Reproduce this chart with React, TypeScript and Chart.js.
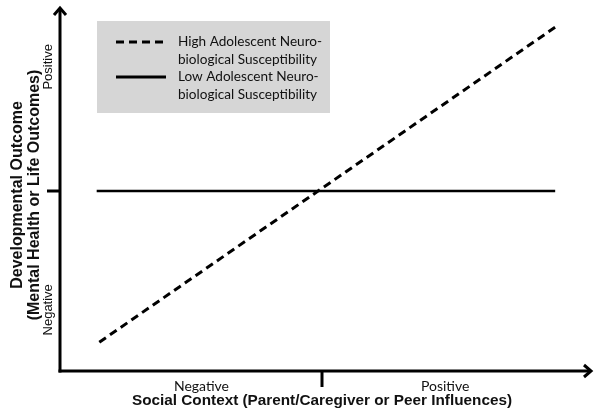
import { useEffect, useRef } from "react";
import { Chart, registerables } from "chart.js";
Chart.register(...registerables);

// ---- data ----
const seriesLabels = [
  ["High Adolescent Neuro-", "biological Susceptibility"],
  ["Low Adolescent Neuro-", "biological Susceptibility"],
];
const highX = [-0.85, 0.89];
const highY = [-0.84, 0.91];
const lowX = [-0.86, 0.89];
const lowY = [0, 0];
const xTickLabels = ["Negative", "Positive"];
const xTickValues = [-0.46, 0.47];
const yTickLabels = ["Negative", "Positive"];
const yTickValues = [-0.66, 0.69];
const xTitle = "Social Context (Parent/Caregiver or Peer Influences)";
const yTitle = ["Developmental Outcome", "(Mental Health or Life Outcomes)"];

const decorPlugin = {
  id: "decor",
  afterDraw(chart: any) {
    const ctx = chart.ctx;
    const xs = chart.scales.x;
    const ys = chart.scales.y;
    const x0 = xs.getPixelForValue(-1);
    const y0 = ys.getPixelForValue(-1);
    const xc = xs.getPixelForValue(0);
    const yc = ys.getPixelForValue(0);
    ctx.save();
    ctx.strokeStyle = "#000";
    ctx.fillStyle = "#000";
    ctx.lineWidth = 3;
    ctx.lineCap = "butt";
    // y axis
    ctx.beginPath();
    ctx.moveTo(x0, y0 + 1.5);
    ctx.lineTo(x0, 8);
    ctx.stroke();
    ctx.beginPath();
    ctx.moveTo(x0 - 6, 15);
    ctx.lineTo(x0, 8);
    ctx.lineTo(x0 + 6, 15);
    ctx.stroke();
    // x axis
    ctx.beginPath();
    ctx.moveTo(x0 - 1.5, y0);
    ctx.lineTo(591, y0);
    ctx.stroke();
    ctx.beginPath();
    ctx.moveTo(584, y0 - 6);
    ctx.lineTo(591, y0);
    ctx.lineTo(584, y0 + 6);
    ctx.stroke();
    // ticks
    ctx.beginPath();
    ctx.moveTo(47, yc);
    ctx.lineTo(x0, yc);
    ctx.stroke();
    ctx.beginPath();
    ctx.moveTo(xc, y0);
    ctx.lineTo(xc, y0 + 16);
    ctx.stroke();

    // x tick labels
    ctx.font = "14px Lato";
    ctx.textAlign = "center";
    ctx.textBaseline = "middle";
    ctx.fillStyle = "#111";
    xTickLabels.forEach((t, i) => {
      ctx.fillText(t, xs.getPixelForValue(xTickValues[i]), 386);
    });
    // x title
    ctx.font = "bold 15.3px 'Liberation Sans'";
    ctx.fillText(xTitle, xc, 401);

    // y tick labels (rotated)
    ctx.font = "13px 'Liberation Sans'";
    yTickLabels.forEach((t, i) => {
      ctx.save();
      ctx.translate(48, ys.getPixelForValue(yTickValues[i]));
      ctx.rotate(-Math.PI / 2);
      ctx.fillText(t, 0, 0);
      ctx.restore();
    });
    // y title
    ctx.font = "bold 16px 'Liberation Sans'";
    ctx.save();
    ctx.translate(18, yc + 4);
    ctx.rotate(-Math.PI / 2);
    ctx.fillText(yTitle[0], 0, 0);
    ctx.fillText(yTitle[1], 0, 17);
    ctx.restore();

    // legend box
    ctx.fillStyle = "#d6d6d6";
    ctx.fillRect(97, 21, 233, 92);
    const rowY = [42, 77];
    chart.data.datasets.forEach((ds: any, i: number) => {
      ctx.strokeStyle = "#000";
      ctx.lineWidth = 3;
      ctx.setLineDash(ds.borderDash || []);
      ctx.beginPath();
      ctx.moveTo(116, rowY[i]);
      ctx.lineTo(166, rowY[i]);
      ctx.stroke();
      ctx.setLineDash([]);
      ctx.fillStyle = "#111";
      ctx.font = "13.6px Lato";
      ctx.textAlign = "left";
      ctx.textBaseline = "middle";
      const lines = seriesLabels[i];
      lines.forEach((l, j) => ctx.fillText(l, 178, rowY[i] + j * 18));
    });
    ctx.restore();
  },
};

export default function App() {
  const ref = useRef<HTMLCanvasElement>(null);
  useEffect(() => {
    if (!ref.current) return;
    const chart = new Chart(ref.current, {
      type: "line",
      data: {
        datasets: [
          {
            label: seriesLabels[0].join(""),
            data: highX.map((x, i) => ({ x, y: highY[i] })),
            borderColor: "#000",
            borderWidth: 3,
            borderDash: [8, 5],
            pointRadius: 0,
            fill: false,
          },
          {
            label: seriesLabels[1].join(""),
            data: lowX.map((x, i) => ({ x, y: lowY[i] })),
            borderColor: "#000",
            borderWidth: 2.5,
            pointRadius: 0,
            fill: false,
          },
        ],
      },
      options: {
        animation: false,
        responsive: false,
        events: [],
        layout: { padding: { left: 60, right: 16, top: 11, bottom: 42 } },
        plugins: { legend: { display: false }, tooltip: { enabled: false } },
        scales: {
          x: { type: "linear", min: -1, max: 1, display: false },
          y: { type: "linear", min: -1, max: 1, display: false },
        },
      },
      plugins: [decorPlugin],
    });
    return () => chart.destroy();
  }, []);
  return (
    <div style={{ position: "fixed", left: 0, top: 0, width: 600, height: 413, background: "#fff" }}>
      <canvas ref={ref} width={600} height={413} />
    </div>
  );
}
